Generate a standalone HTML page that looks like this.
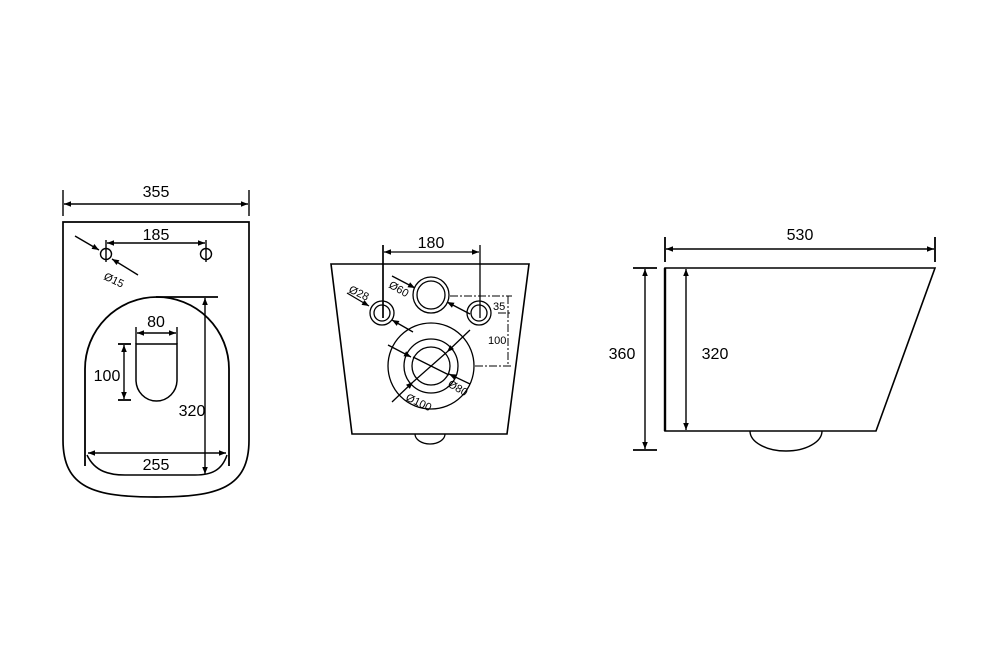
<!DOCTYPE html>
<html><head><style>html,body{margin:0;padding:0;background:#fff}svg{display:block}</style></head>
<body>
<svg width="1000" height="667" viewBox="0 0 1000 667" xmlns="http://www.w3.org/2000/svg" font-family="Liberation Sans, sans-serif" fill="none" stroke="#000">
<defs>
<marker id="a" viewBox="0 0 10 10" refX="10" refY="5" markerWidth="9" markerHeight="7" orient="auto-start-reverse" markerUnits="userSpaceOnUse"><path d="M0,1 L10,5 L0,9 Z" fill="#000" stroke="none"/></marker>
</defs>
<!-- LEFT VIEW -->
<g stroke-width="1.4">
<line x1="63" y1="190" x2="63" y2="216"/><line x1="249" y1="190" x2="249" y2="216"/>
<line x1="64" y1="204" x2="248" y2="204" marker-start="url(#a)" marker-end="url(#a)"/>
<path d="M63,222 H249 V440 C249,488 218,497 156,497 C94,497 63,488 63,440 Z" stroke-width="1.7"/>
<circle cx="106" cy="254" r="5.5"/><circle cx="206" cy="254" r="5.5"/>
<line x1="106" y1="240" x2="106" y2="262"/><line x1="206" y1="240" x2="206" y2="262"/>
<line x1="107" y1="243" x2="205" y2="243" marker-start="url(#a)" marker-end="url(#a)"/>
<line x1="75" y1="236" x2="99" y2="250" marker-end="url(#a)"/>
<line x1="138" y1="275" x2="112" y2="259" marker-end="url(#a)"/>
<path d="M85,466 V369 A72,72 0 0 1 229,369 V466" stroke-width="1.8"/>
<line x1="156" y1="297" x2="218" y2="297" stroke-width="1.8"/>
<path d="M87,455 C95,472 110,475 125,475 H195 C212,475 222,470 227,455" stroke-width="1.5"/>
<line x1="205" y1="298" x2="205" y2="474" marker-start="url(#a)" marker-end="url(#a)"/>
<line x1="88" y1="453" x2="226" y2="453" marker-start="url(#a)" marker-end="url(#a)"/>
<path d="M136,344 V380 A20.5,21 0 0 0 177,380 V344 Z" stroke-width="1.5"/>
<line x1="136" y1="327" x2="136" y2="344"/><line x1="177" y1="327" x2="177" y2="344"/>
<line x1="137" y1="333" x2="176" y2="333" marker-start="url(#a)" marker-end="url(#a)"/>
<line x1="118" y1="344" x2="131" y2="344" stroke-width="1.8"/><line x1="118" y1="400" x2="131" y2="400" stroke-width="1.8"/>
<line x1="124" y1="345" x2="124" y2="399" marker-start="url(#a)" marker-end="url(#a)"/>
</g>
<g fill="#000" stroke="none" font-size="16">
<text x="156" y="197" text-anchor="middle">355</text>
<text x="156" y="240" text-anchor="middle">185</text>
<text x="156" y="327" text-anchor="middle">80</text>
<text x="107" y="381" text-anchor="middle">100</text>
<text x="192" y="416" text-anchor="middle">320</text>
<text x="156" y="470" text-anchor="middle">255</text>
<text x="103" y="279" font-size="11" transform="rotate(25 103 279)">Ø15</text>
</g>
<!-- MIDDLE VIEW -->
<g stroke-width="1.3">
<path d="M331,264 H529 L507,434 H352 Z" stroke-width="1.6"/>
<path d="M415,434 A15,10 0 0 0 445,434"/>
<line x1="383" y1="245" x2="383" y2="318" stroke-width="1.7"/><line x1="480" y1="245" x2="480" y2="318"/>
<line x1="384" y1="252" x2="479" y2="252" marker-start="url(#a)" marker-end="url(#a)"/>
<circle cx="382" cy="313" r="12"/><circle cx="382" cy="313" r="8"/>
<circle cx="479" cy="313" r="12"/><circle cx="479" cy="313" r="8"/>
<circle cx="431" cy="295" r="18"/><circle cx="431" cy="295" r="14"/>
<circle cx="431" cy="366" r="43"/><circle cx="431" cy="366" r="27"/><circle cx="431" cy="366" r="19"/>
<g stroke-dasharray="8,2,2,2" stroke-width="1">
<line x1="450" y1="296" x2="512" y2="296"/><line x1="475" y1="366" x2="512" y2="366"/>
<line x1="508" y1="296" x2="508" y2="366"/><line x1="498" y1="313" x2="512" y2="313"/>
</g>
<line x1="347" y1="293" x2="369" y2="306" marker-end="url(#a)"/>
<line x1="413" y1="332" x2="392" y2="320" marker-end="url(#a)"/>
<line x1="392" y1="276" x2="415" y2="288" marker-end="url(#a)"/>
<line x1="470" y1="314" x2="447" y2="302" marker-end="url(#a)"/>
<line x1="388" y1="345" x2="411" y2="357" marker-end="url(#a)"/>
<line x1="470" y1="384" x2="449" y2="374" marker-end="url(#a)"/>
<line x1="413" y1="357" x2="449" y2="375"/>
<line x1="470" y1="330" x2="447" y2="352" marker-end="url(#a)"/>
<line x1="392" y1="402" x2="413" y2="382" marker-end="url(#a)"/>
<line x1="447" y1="352" x2="413" y2="382"/>
</g>
<g fill="#000" stroke="none" font-size="16">
<text x="431" y="248" text-anchor="middle">180</text>
<g font-size="11">
<text x="493" y="310">35</text>
<text x="488" y="344">100</text>
<text x="348" y="292" transform="rotate(25 348 292)">Ø28</text>
<text x="388" y="287" transform="rotate(30 388 287)">Ø60</text>
<text x="447" y="386" transform="rotate(30 447 386)">Ø80</text>
<text x="405" y="400" transform="rotate(25 405 400)">Ø100</text>
</g>
</g>
<!-- RIGHT VIEW -->
<g stroke-width="1.4">
<line x1="665" y1="237" x2="665" y2="262" stroke-width="1.8"/><line x1="935" y1="237" x2="935" y2="262" stroke-width="1.8"/>
<line x1="666" y1="249" x2="934" y2="249" marker-start="url(#a)" marker-end="url(#a)"/>
<path d="M665,268 H935 L876,431 H665 Z" stroke-width="1.6"/>
<line x1="665" y1="268" x2="665" y2="431" stroke-width="2.4"/>
<path d="M750,431 A36,20 0 0 0 822,431"/>
<line x1="633" y1="268" x2="657" y2="268" stroke-width="1.8"/><line x1="633" y1="450" x2="657" y2="450" stroke-width="1.8"/>
<line x1="645" y1="269" x2="645" y2="449" marker-start="url(#a)" marker-end="url(#a)"/>
<line x1="686" y1="269" x2="686" y2="430" marker-start="url(#a)" marker-end="url(#a)"/>
</g>
<g fill="#000" stroke="none" font-size="16">
<text x="800" y="240" text-anchor="middle">530</text>
<text x="622" y="359" text-anchor="middle">360</text>
<text x="715" y="359" text-anchor="middle">320</text>
</g>
</svg>
</body></html>
